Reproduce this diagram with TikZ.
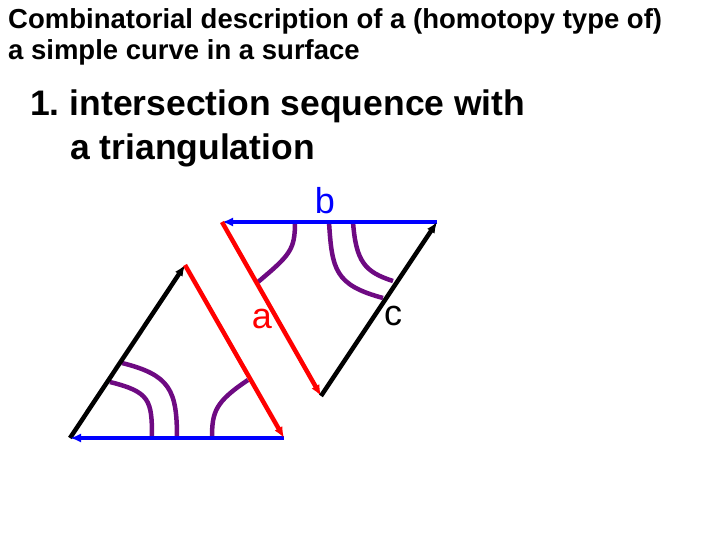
\documentclass[tikz,border=0pt]{standalone}
\usepackage{fontspec}
\setmainfont{Liberation Sans}
\usetikzlibrary{arrows.meta}
\begin{document}
\begin{tikzpicture}[x=1pt,y=-1pt,
  edge/.style={line width=4.5pt,-{Latex[length=11pt,width=9pt]}},
  curve/.style={line width=4.5pt,draw={rgb,255:red,110;green,10;blue,130}},
  lbl/.style={font=\fontsize{36}{36}\selectfont}]
\useasboundingbox (0,0) rectangle (720,540);
\node[anchor=north west,align=left,inner sep=0,font=\bfseries\fontsize{27.5}{31}\selectfont] (t1) at (8,8) {Combinatorial description of a (homotopy type of)\\a simple curve in a surface};
\node[anchor=north west,align=left,inner sep=0,font=\bfseries\fontsize{35.5}{44}\selectfont] (t2) at (30,90) {1.\ intersection sequence with\\\hspace{40pt}a triangulation};
% left triangle
\coordinate (A) at (70,438); \coordinate (B) at (284,438); \coordinate (C) at (185,265);
% right triangle
\coordinate (D) at (222,222); \coordinate (E) at (437,222); \coordinate (F) at (321,396);
\draw[curve] (110,382) .. controls (150,392) and (152,400) .. (152,438);
\draw[curve] (122,363) .. controls (170,375) and (177,390) .. (177,438);
\draw[curve] (248,380) .. controls (215,402) and (212,412) .. (212,438);
\draw[curve] (258,282) .. controls (290,255) and (295,250) .. (295,222);
\draw[curve] (329,222) .. controls (332,270) and (335,285) .. (383,298);
\draw[curve] (353,222) .. controls (356,262) and (365,272) .. (393,281);
\draw[edge,black] (A) -- (C);
\draw[edge,blue] (B) -- (A);
\draw[edge,red] (C) -- (B);
\draw[edge,blue] (E) -- (D);
\draw[edge,red] (D) -- (F);
\draw[edge,black] (F) -- (E);
\node[lbl,text=blue] (lb) at (325,201) {b};
\node[lbl,text=red] (la) at (262,319) {a};
\node[lbl] (lc) at (393,316) {c};
\end{tikzpicture}
\end{document}
